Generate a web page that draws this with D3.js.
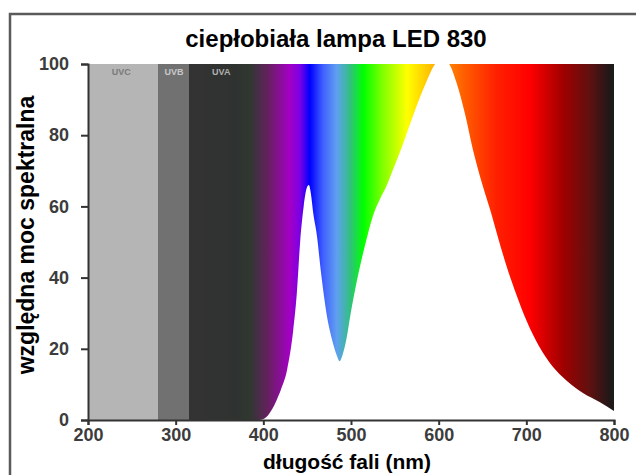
<!DOCTYPE html>
<html>
<head>
<meta charset="utf-8">
<script src="https://cdn.jsdelivr.net/npm/d3@7"></script>
<style>
  body { margin: 0; background: #fff; }
  svg { display: block; font-family: "Liberation Sans", Arial, sans-serif; }
</style>
</head>
<body>
<svg id="chart" width="636" height="475"></svg>
<script>
// widmo lampy LED 830
const wavelengths = [395, 400, 405, 410, 415, 420, 427, 434, 438, 442, 446, 450, 452, 454, 457, 461, 466, 472, 479, 484, 487, 490, 495, 499, 505, 512, 519, 526, 533, 541, 549, 557, 570, 586, 596, 604, 612, 620, 630, 639, 650, 660, 668, 679, 689, 700, 715, 730, 746, 765, 784, 800];
const power = [0, 0.3, 1.2, 3, 5.5, 8.5, 14, 25, 35, 50, 60, 65.5, 66, 64, 58, 52, 41, 30, 22, 18, 16.5, 18, 23, 29, 37, 45, 52, 58, 62, 66, 71, 76, 85, 95, 100, 101.5, 100, 95, 86, 76, 66, 58, 51, 42, 35, 28, 20.5, 15, 11, 7.5, 5, 2.5];

// kolory tła (gradient widma)
const stopNm = [200, 280, 280, 315, 315, 370, 385, 407, 430, 442, 453, 468, 484, 499, 514, 536, 564, 590, 605, 628, 666, 704, 742, 772, 795, 800];
const stopColors = ["#b5b5b5", "#b5b5b5", "#717171", "#717171", "#333333", "#2f3330", "#303830", "#6a1e64", "#a400c4", "#7a00e6", "#0000ff", "#4060ff", "#60a0f0", "#30c080", "#00ff00", "#80ff00", "#ffff00", "#ffc000", "#ff9000", "#ff6000", "#ff2000", "#ff0000", "#a00000", "#601010", "#201818", "#1c1c1c"];

const bandLabels = ["UVC", "UVB", "UVA"];
const bandLabelNm = [238, 298, 352];
const bandLabelColors = ["#7a7a7a", "#c8c8c8", "#b0b0b0"];

const xTicks = [200, 300, 400, 500, 600, 700, 800];
const yTicks = [0, 20, 40, 60, 80, 100];

const svg = d3.select("#chart");
const margin = {top: 64, right: 22, bottom: 55, left: 88};
const width = 636 - margin.left - margin.right,
      height = 475 - margin.top - margin.bottom;

const x = d3.scaleLinear().domain([200, 800]).range([0, width]);
const y = d3.scaleLinear().domain([0, 100]).range([height, 0]);

// ramka obrazka
svg.append("path")
  .attr("d", "M10,475 L10,14 L636,14")
  .attr("fill", "none")
  .attr("stroke", "#5a5a5a")
  .attr("stroke-width", 2.5);

const defs = svg.append("defs");
const grad = defs.append("linearGradient")
  .attr("id", "spectrum")
  .attr("gradientUnits", "userSpaceOnUse")
  .attr("x1", x(200)).attr("x2", x(800))
  .attr("y1", 0).attr("y2", 0);
grad.selectAll("stop")
  .data(stopNm)
  .enter().append("stop")
  .attr("offset", d => (d - 200) / 600)
  .attr("stop-color", (d, i) => stopColors[i]);

defs.append("clipPath").attr("id", "plotClip")
  .append("rect").attr("width", width).attr("height", height);

defs.append("filter").attr("id", "soft")
  .append("feGaussianBlur").attr("stdDeviation", 0.7);

const g = svg.append("g").attr("transform", `translate(${margin.left},${margin.top})`);

// tło
g.append("rect")
  .attr("width", width)
  .attr("height", height)
  .attr("fill", "url(#spectrum)");

// etykiety pasm UV
g.selectAll(".band")
  .data(bandLabels)
  .enter().append("text")
  .attr("x", (d, i) => x(bandLabelNm[i]))
  .attr("y", 11)
  .attr("text-anchor", "middle")
  .attr("font-size", 9)
  .attr("font-weight", "bold")
  .attr("fill", (d, i) => bandLabelColors[i])
  .text(d => d);

// obszar pod krzywą (biały)
const area = d3.area()
  .x((d, i) => x(wavelengths[i]))
  .y0(height)
  .y1(d => y(d))
  .curve(d3.curveMonotoneX);

g.append("path")
  .datum(power)
  .attr("clip-path", "url(#plotClip)")
  .attr("filter", "url(#soft)")
  .attr("fill", "#fff")
  .attr("d", area);

// osie
const xAxis = g.append("g")
  .attr("transform", `translate(0,${height})`)
  .call(d3.axisBottom(x).tickValues(xTicks).tickSize(5).tickPadding(3));
const yAxis = g.append("g")
  .call(d3.axisLeft(y).tickValues(yTicks).tickSize(7).tickPadding(12));

[xAxis, yAxis].forEach(a => {
  a.select(".domain").attr("stroke", "#333").attr("stroke-width", 2);
  a.selectAll(".tick line").attr("stroke", "#333").attr("stroke-width", 2);
  a.selectAll(".tick text")
    .attr("fill", "#3c3c3c")
    .attr("font-size", 18)
    .attr("font-weight", "bold")
    .attr("font-family", "'Liberation Sans', Arial, sans-serif");
});

// tytuł i opisy osi
svg.append("text")
  .attr("x", 336)
  .attr("y", 47)
  .attr("text-anchor", "middle")
  .attr("font-size", 24)
  .attr("font-weight", "bold")
  .text("ciepłobiała lampa LED 830");

svg.append("text")
  .attr("x", 347)
  .attr("y", 469)
  .attr("text-anchor", "middle")
  .attr("font-size", 21)
  .attr("font-weight", "bold")
  .text("długość fali (nm)");

svg.append("text")
  .attr("transform", "translate(34,235) rotate(-90)")
  .attr("text-anchor", "middle")
  .attr("font-size", 23)
  .attr("font-weight", "bold")
  .text("względna moc spektralna");
</script>
</body>
</html>
